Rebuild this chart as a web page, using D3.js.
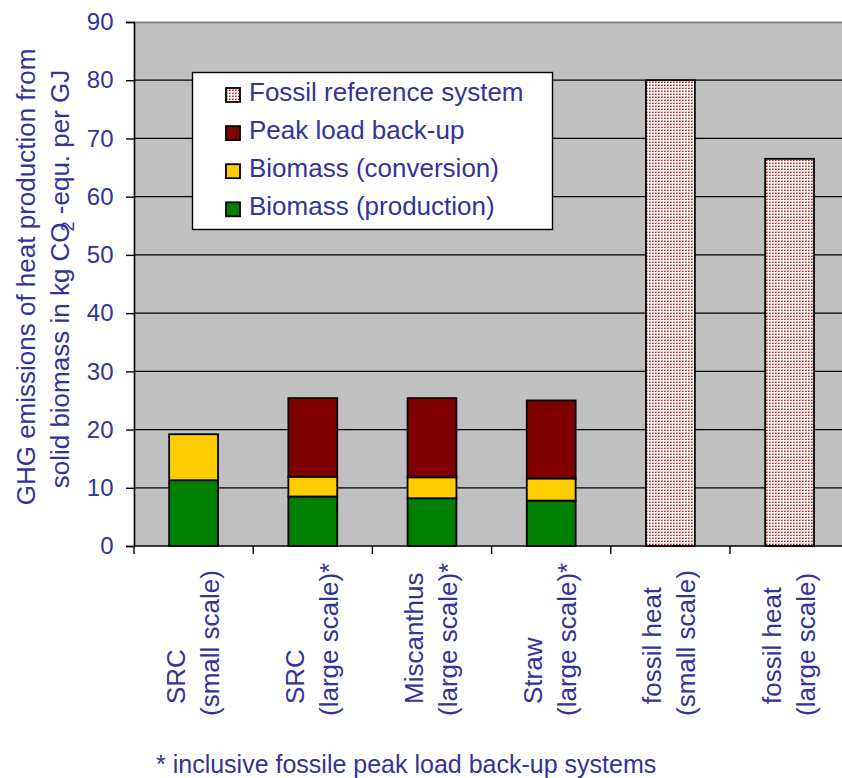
<!DOCTYPE html>
<html>
<head>
<meta charset="utf-8">
<script src="https://cdn.jsdelivr.net/npm/d3@7"></script>
<style>
  html, body { margin: 0; padding: 0; background: #fff; }
  svg { display: block; }
  text { font-family: "Liberation Sans", Arial, sans-serif; fill: #333399; }
</style>
</head>
<body>
<svg id="chart" width="842" height="778"></svg>
<script>
// Category labels (two lines each, drawn rotated)
const labelLine1 = ["SRC", "SRC", "Miscanthus", "Straw", "fossil heat", "fossil heat"];
const labelLine2 = ["(small scale)", "(large scale)*", "(large scale)*", "(large scale)*", "(small scale)", "(large scale)"];

// GHG emissions, kg CO2-equ. per GJ
const production = [11.3, 8.5, 8.2, 7.8, 0, 0];
const conversion = [7.9, 3.4, 3.6, 3.8, 0, 0];
const peakLoad   = [0, 13.5, 13.6, 13.4, 0, 0];
const fossilRef  = [0, 0, 0, 0, 80, 66.5];

const yTicks = [0, 10, 20, 30, 40, 50, 60, 70, 80, 90];

const seriesKeys  = ["production", "conversion", "peak", "fossil"];
const seriesNames = {
  production: "Biomass (production)",
  conversion: "Biomass (conversion)",
  peak: "Peak load back-up",
  fossil: "Fossil reference system"
};
const seriesFill = {
  production: "#008000",
  conversion: "#FFCC00",
  peak: "#800000",
  fossil: "url(#dots)"
};

const table = labelLine1.map((_, i) => ({
  idx: i,
  production: production[i],
  conversion: conversion[i],
  peak: peakLoad[i],
  fossil: fossilRef[i]
}));

const svg = d3.select("#chart");

// dotted fill for the fossil reference bars
const defs = svg.append("defs");
const pat = defs.append("pattern")
  .attr("id", "dots").attr("patternUnits", "userSpaceOnUse")
  .attr("width", 3).attr("height", 3);
pat.append("rect").attr("width", 3).attr("height", 3).attr("fill", "#fbf1f1");
pat.append("rect").attr("x", 0).attr("y", 0).attr("width", 1).attr("height", 3).attr("fill", "#ffffff");
pat.append("rect").attr("x", 1).attr("y", 0).attr("width", 2).attr("height", 1).attr("fill", "#e6b4b4");
pat.append("rect").attr("x", 1).attr("y", 1).attr("width", 1).attr("height", 1).attr("fill", "#a82222");
pat.append("rect").attr("x", 2).attr("y", 1).attr("width", 1).attr("height", 1).attr("fill", "#d27a7a");

const plot = { left: 134, top: 22, right: 842, bottom: 546 };
const rangeRight = 849.2;

const x = d3.scaleBand()
  .domain(table.map(d => d.idx))
  .range([plot.left, rangeRight])
  .paddingInner(0.59)
  .paddingOuter(0.295);

const xCat = d3.scaleBand()
  .domain(table.map(d => d.idx))
  .range([plot.left, rangeRight])
  .padding(0);

const y = d3.scaleLinear().domain([0, 90]).range([plot.bottom, plot.top]);

// plot area
svg.append("rect")
  .attr("x", plot.left).attr("y", plot.top)
  .attr("width", plot.right - plot.left).attr("height", plot.bottom - plot.top)
  .attr("fill", "#C0C0C0");

svg.append("line")
  .attr("x1", plot.left).attr("x2", plot.right)
  .attr("y1", plot.top + 0.5).attr("y2", plot.top + 0.5)
  .attr("stroke", "#808080").attr("stroke-width", 2);

// horizontal gridlines
svg.append("g").selectAll("line")
  .data(yTicks.filter(t => t > 0 && t < 90))
  .join("line")
  .attr("x1", plot.left).attr("x2", plot.right)
  .attr("y1", d => y(d)).attr("y2", d => y(d))
  .attr("stroke", "#000").attr("stroke-width", 1.2);

// stacked bars
const stacked = d3.stack().keys(seriesKeys)(table);
svg.append("g").selectAll("g")
  .data(stacked)
  .join("g")
  .attr("fill", s => seriesFill[s.key])
  .selectAll("rect")
  .data(s => s.filter(seg => seg[1] - seg[0] > 0))
  .join("rect")
  .attr("x", seg => x(seg.data.idx))
  .attr("width", x.bandwidth())
  .attr("y", seg => y(seg[1]))
  .attr("height", seg => y(seg[0]) - y(seg[1]))
  .attr("stroke", "#000").attr("stroke-width", 1.8);

// y axis
const yAxis = d3.axisLeft(y).tickValues(yTicks).tickSize(8).tickPadding(12.5);
const gy = svg.append("g").attr("transform", `translate(${plot.left},0)`).call(yAxis);
gy.select(".domain").attr("stroke", "#000").attr("stroke-width", 1.6);
gy.selectAll(".tick line").attr("stroke", "#000").attr("stroke-width", 1.4);
gy.selectAll(".tick text")
  .style("font-family", "'Liberation Sans', Arial, sans-serif")
  .style("font-size", "24px").attr("fill", "#333399");

// x axis line and category separators
svg.append("line")
  .attr("x1", plot.left).attr("x2", plot.right)
  .attr("y1", plot.bottom).attr("y2", plot.bottom)
  .attr("stroke", "#000").attr("stroke-width", 1.6);
svg.append("g").selectAll("line")
  .data(table)
  .join("line")
  .attr("x1", d => xCat(d.idx)).attr("x2", d => xCat(d.idx))
  .attr("y1", plot.bottom).attr("y2", plot.bottom + 8)
  .attr("stroke", "#000").attr("stroke-width", 1.4);

// rotated category labels
const lab = svg.append("g").selectAll("g")
  .data(table)
  .join("g");
lab.append("text")
  .attr("transform", d => `translate(${xCat(d.idx) + xCat.bandwidth() / 2 - 9},704) rotate(-90)`)
  .attr("font-size", 26)
  .text(d => labelLine1[d.idx]);
lab.append("text")
  .attr("transform", d => `translate(${xCat(d.idx) + xCat.bandwidth() / 2 + 25},716) rotate(-90)`)
  .attr("font-size", 26)
  .text(d => labelLine2[d.idx]);

// y axis title
svg.append("text")
  .attr("transform", "translate(35,277) rotate(-90)")
  .attr("text-anchor", "middle").attr("font-size", 26)
  .text("GHG emissions of heat production from");
const t2 = svg.append("text")
  .attr("transform", "translate(69,279) rotate(-90)")
  .attr("text-anchor", "middle").attr("font-size", 26);
t2.append("tspan").text("solid biomass in kg CO");
t2.append("tspan").attr("dx", -9).attr("dy", 5).attr("font-size", 18).text("2");
t2.append("tspan").attr("dy", -5).text(" -equ. per GJ");

// legend
const leg = svg.append("g");
leg.append("rect")
  .attr("x", 192.5).attr("y", 72.5).attr("width", 360).attr("height", 157)
  .attr("fill", "#fff").attr("stroke", "#000").attr("stroke-width", 1.4);
const legendKeys = seriesKeys.slice().reverse();
const items = leg.selectAll("g.item")
  .data(legendKeys)
  .join("g").attr("class", "item")
  .attr("transform", (k, i) => `translate(0,${95 + i * 38.1})`);
items.append("rect")
  .attr("x", 226).attr("y", -7).attr("width", 14).attr("height", 14)
  .attr("fill", k => seriesFill[k]).attr("stroke", "#000").attr("stroke-width", 1.8);
items.append("text")
  .attr("x", 249).attr("y", 6)
  .attr("font-size", 26)
  .text(k => seriesNames[k]);

// footnote
svg.append("text")
  .attr("x", 156).attr("y", 773)
  .attr("font-size", 25)
  .text("* inclusive fossile peak load back-up systems");
</script>
</body>
</html>
